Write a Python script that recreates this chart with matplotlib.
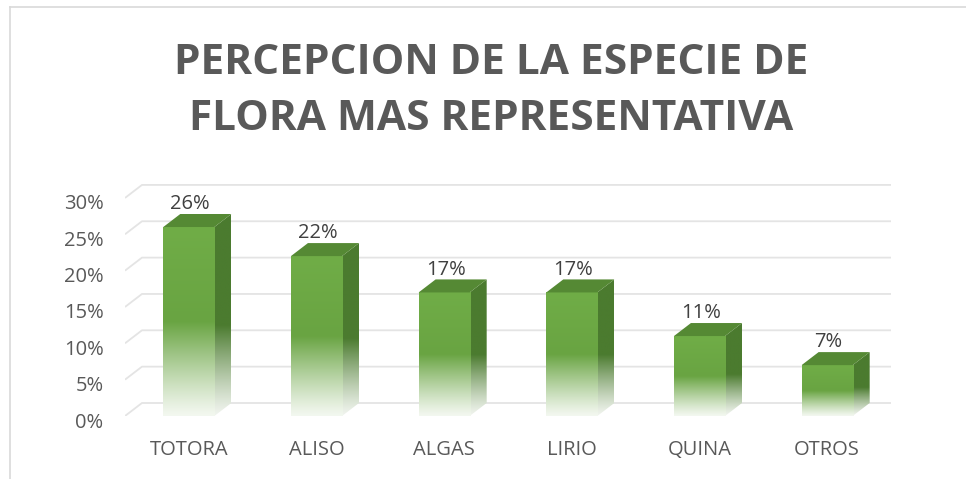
import numpy as np
import matplotlib
matplotlib.use("Agg")
import matplotlib.pyplot as plt
from matplotlib.patches import Polygon
from matplotlib.lines import Line2D
from matplotlib.colors import to_rgb
from matplotlib.transforms import ScaledTranslation

# Datos
categorias = ["TOTORA", "ALISO", "ALGAS", "LIRIO", "QUINA", "OTROS"]
valores = [26, 22, 17, 17, 11, 7]
etiquetas = ["26%", "22%", "17%", "17%", "11%", "7%"]
ticks_y = [0, 5, 10, 15, 20, 25, 30]

plt.rcParams['font.family'] = ['Open Sans', 'DejaVu Sans']

# Colores
verde = np.array(to_rgb("#70ad47"))
verde_medio = np.array(to_rgb("#69a442"))
verde_lado = np.array(to_rgb("#4b7b2f"))
verde_techo = np.array(to_rgb("#558934"))
blanco = np.array([1.0, 1.0, 1.0])

fig = plt.figure(figsize=(9.66, 4.79), dpi=100)
ax = fig.add_axes([125 / 966, 63 / 479, 766 / 966, 232.6 / 479])

ancho = 0.4          # ancho de la cara frontal
dx = 0.133           # profundidad (eje x)
dy = 1.79            # profundidad (eje y, en %)


def degradado_frontal(n=200):
    t = np.linspace(0, 1, n)  # 0 = abajo, 1 = arriba
    img = np.zeros((n, 1, 3))
    for k, tt in enumerate(t):
        if tt >= 0.5:
            a = (tt - 0.5) / 0.5
            c = verde_medio * (1 - a) + verde * a
        else:
            a = tt / 0.5
            a = 0.08 + 0.92 * a ** 1.15
            c = blanco * (1 - a) + verde_medio * a
        img[k, 0] = c
    return img[::-1]


def degradado_lado(n=200):
    t = np.linspace(0, 1, n)
    img = np.zeros((n, 1, 3))
    for k, tt in enumerate(t):
        if tt >= 0.45:
            c = verde_lado
        else:
            a = tt / 0.45
            a = 0.08 + 0.92 * a ** 1.2
            c = blanco * (1 - a) + verde_lado * a
        img[k, 0] = c
    return img[::-1]


img_f = degradado_frontal()
img_l = degradado_lado()

# Lineas de cuadricula (pared del fondo)
for v in ticks_y:
    ax.plot([-0.5, -0.5 + dx, 5.5 + dx], [v, v + dy, v + dy],
            color="#e4e4e4", lw=1.3, zorder=0, solid_capstyle="butt")

for i, v in enumerate(valores):
    x0, x1 = i - ancho / 2, i + ancho / 2

    # cara frontal
    ax.imshow(img_f, extent=(x0, x1, 0, v), aspect="auto",
              interpolation="bilinear", zorder=3)

    # cara lateral
    lado = Polygon([(x1, 0), (x1 + dx, dy), (x1 + dx, v + dy), (x1, v)],
                   closed=True, facecolor="none", edgecolor="none")
    ax.add_patch(lado)
    im2 = ax.imshow(img_l, extent=(x1, x1 + dx, 0, v + dy), aspect="auto",
                    interpolation="bilinear", zorder=2)
    im2.set_clip_path(lado)

    # techo
    techo = Polygon([(x0, v), (x0 + dx, v + dy), (x1 + dx, v + dy), (x1, v)],
                    closed=True, facecolor=verde_techo, edgecolor="none", zorder=3)
    ax.add_patch(techo)

    # etiqueta de valor
    ax.annotate(etiquetas[i], xy=(i, v + dy), xytext=(1, 7), textcoords="offset points",
                ha="center", va="center", fontsize=14.5, color="#404040",
                annotation_clip=False)

ax.set_xlim(-0.5, 5.5)
ax.set_ylim(0, 32)
ax.set_xticks(range(len(categorias)))
ax.set_xticklabels(categorias)
ax.set_yticks(ticks_y)
ax.set_yticklabels([f"{v}%" for v in ticks_y])
ax.tick_params(axis="x", length=0, pad=17, labelsize=14.5, labelcolor="#595959")
ax.tick_params(axis="y", length=0, pad=15.5, labelsize=14.5, labelcolor="#595959")
desplazar = ScaledTranslation(0, -4 / 100, fig.dpi_scale_trans)
for lbl in ax.get_yticklabels():
    lbl.set_transform(lbl.get_transform() + desplazar)
for s in ax.spines.values():
    s.set_visible(False)
ax.patch.set_alpha(0)

# Titulo
fig.text(491 / 966, 1 - 74 / 479, "PERCEPCION DE LA ESPECIE DE", ha="center",
         va="baseline", fontsize=30.5, fontweight="bold", color="#595959")
fig.text(491 / 966, 1 - 130.5 / 479, "FLORA MAS REPRESENTATIVA", ha="center",
         va="baseline", fontsize=30.5, fontweight="bold", color="#595959")

# Borde del grafico
fig.add_artist(Line2D([10 / 966, 1.0], [1 - 7 / 479, 1 - 7 / 479],
                      color="#d9d9d9", lw=1.2, transform=fig.transFigure))
fig.add_artist(Line2D([10 / 966, 10 / 966], [0.0, 1 - 7 / 479],
                      color="#d9d9d9", lw=1.2, transform=fig.transFigure))

fig.savefig("out.png", dpi=100)
